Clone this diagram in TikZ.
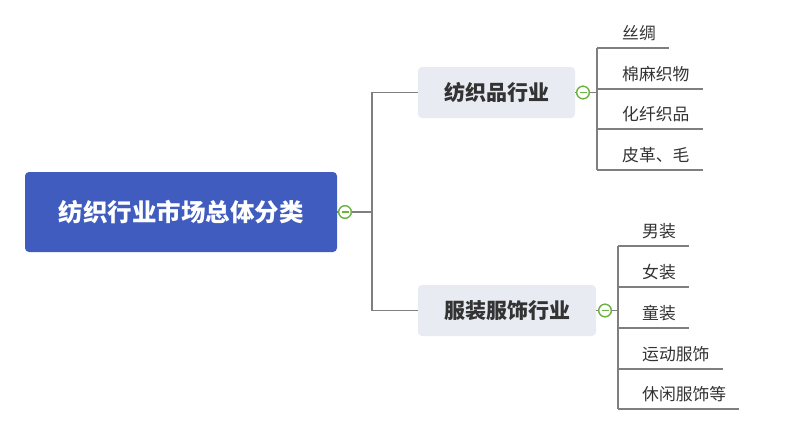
\documentclass[tikz,border=0pt]{standalone}
\usepackage{fontspec}
\setmainfont{Noto Sans CJK SC}
\newfontfamily\cjk{Noto Sans CJK SC}
\definecolor{rootblue}{HTML}{3F5CBE}
\definecolor{branchgray}{HTML}{E9EBF3}
\definecolor{linegray}{HTML}{7F7F7F}
\definecolor{togglegreen}{HTML}{6DB33F}
\definecolor{leaftext}{HTML}{333333}
\begin{document}
\begin{tikzpicture}[x=1pt,y=-1pt,
  rootbox/.style={fill=rootblue, rounded corners=4pt, text=white, font=\cjk\bfseries\fontsize{24.5}{28}\selectfont, minimum width=312pt, minimum height=80pt, inner sep=0pt},
  branchbox/.style={fill=branchgray, rounded corners=4pt, text=leaftext, font=\cjk\bfseries\fontsize{21}{25}\selectfont, minimum height=51pt, inner sep=0pt},
  leafnode/.style={anchor=south west, inner xsep=0pt, inner ysep=7pt, text=leaftext, font=\cjk\fontsize{16.8}{20}\selectfont},
  toggle/.style={circle, draw=togglegreen, line width=1.3pt, fill=white, minimum size=12.5pt, inner sep=0pt,
    path picture={\draw[togglegreen, line width=1.3pt] ([xshift=-3.5pt]path picture bounding box.center) -- ([xshift=3.5pt]path picture bounding box.center);}},
  conn/.style={draw=linegray, line width=1.3pt},
]
\useasboundingbox (0,0) rectangle (800,431);

% root
\node[rootbox] (root) at (181,212) {纺织行业市场总体分类};
\node[toggle] (c0) at (345,212) {};
\coordinate (j0) at (372,212);

% branches
\node[branchbox, minimum width=157pt] (b1) at (496.5,92.5) {纺织品行业};
\node[branchbox, minimum width=178pt] (b2) at (507,310.5) {服装服饰行业};
\node[toggle] (c1) at (583,92.5) {};
\node[toggle] (c2) at (605,310.5) {};
\coordinate (j1) at (597,92.5);
\coordinate (j2) at (618,310.5);

% leaves group 1
\node[leafnode] (l11) at (597,48) {\hspace*{25pt}丝绸\hspace*{13pt}};
\node[leafnode] (l12) at (597,89) {\hspace*{25pt}棉麻织物\hspace*{13pt}};
\node[leafnode] (l13) at (597,129) {\hspace*{25pt}化纤织品\hspace*{13pt}};
\node[leafnode] (l14) at (597,170) {\hspace*{25pt}皮革、毛\hspace*{13pt}};

% leaves group 2
\node[leafnode] (l21) at (618,246) {\hspace*{24pt}男装\hspace*{13pt}};
\node[leafnode] (l22) at (618,287) {\hspace*{24pt}女装\hspace*{13pt}};
\node[leafnode] (l23) at (618,328) {\hspace*{24pt}童装\hspace*{13pt}};
\node[leafnode] (l24) at (618,369) {\hspace*{24pt}运动服饰\hspace*{13pt}};
\node[leafnode] (l25) at (618,409) {\hspace*{24pt}休闲服饰等\hspace*{13pt}};

% connectors
\path[conn] (root.east) -- (c0.west);
\path[conn] (c0.east) -- (j0);
\path[conn] (j0) |- (b1.west);
\path[conn] (j0) |- (b2.west);
\path[conn] (b1.east) -- (c1.west);
\path[conn] (c1.east) -- (j1);
\path[conn] (b2.east) -- (c2.west);
\path[conn] (c2.east) -- (j2);
\foreach \l in {l11,l12,l13,l14}{
  \path[conn] (j1) |- (\l.south west);
  \path[conn] (\l.south west) -- (\l.south east);
}
\foreach \l in {l21,l22,l23,l24,l25}{
  \path[conn] (j2) |- (\l.south west);
  \path[conn] (\l.south west) -- (\l.south east);
}
% redraw toggles on top
\node[toggle] at (c0) {};
\node[toggle] at (c1) {};
\node[toggle] at (c2) {};
\end{tikzpicture}
\end{document}
